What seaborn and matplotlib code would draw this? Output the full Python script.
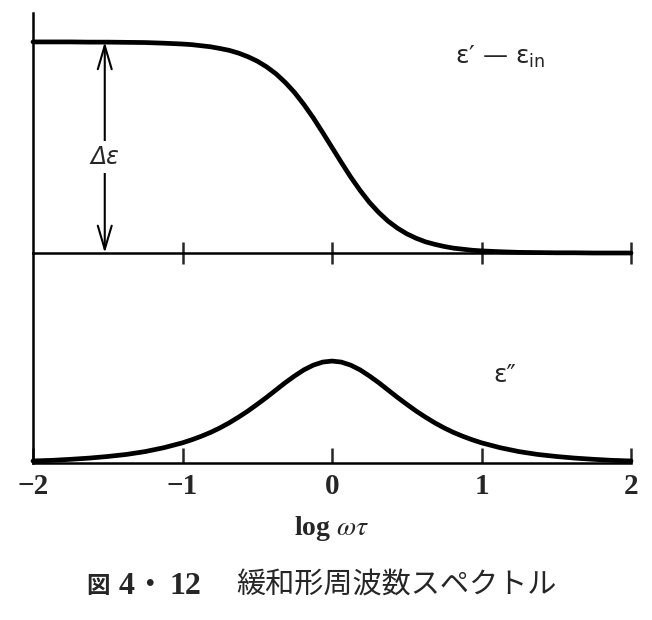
import matplotlib
matplotlib.use("Agg")
import matplotlib.pyplot as plt
import seaborn as sns
import pandas as pd

# values (in units of delta-epsilon)
log_wt = [-2.0, -1.875, -1.75, -1.625, -1.5, -1.375, -1.25, -1.125, -1.0,
          -0.9375, -0.875, -0.8125, -0.75, -0.6875, -0.625, -0.5625, -0.5,
          -0.4375, -0.375, -0.3125, -0.25, -0.1875, -0.125, -0.0625, 0.0,
          0.0625, 0.125, 0.1875, 0.25, 0.3125, 0.375, 0.4375, 0.5,
          0.5625, 0.625, 0.6875, 0.75, 0.8125, 0.875, 0.9375, 1.0,
          1.125, 1.25, 1.375, 1.5, 1.625, 1.75, 1.875, 2.0]
eps_real = [1.000, 1.000, 1.000, 0.999, 0.999, 0.998, 0.997, 0.994, 0.990,
            0.987, 0.982, 0.977, 0.969, 0.960, 0.947, 0.930, 0.909,
            0.882, 0.849, 0.808, 0.760, 0.703, 0.640, 0.571, 0.500,
            0.429, 0.360, 0.297, 0.240, 0.192, 0.151, 0.118, 0.091,
            0.070, 0.053, 0.041, 0.031, 0.023, 0.018, 0.013, 0.010,
            0.006, 0.003, 0.002, 0.001, 0.001, 0.000, 0.000, 0.000]
eps_imag = [0.010, 0.013, 0.018, 0.024, 0.032, 0.042, 0.056, 0.075, 0.099,
            0.114, 0.131, 0.150, 0.172, 0.197, 0.225, 0.255, 0.288,
            0.322, 0.358, 0.394, 0.427, 0.457, 0.480, 0.495, 0.500,
            0.495, 0.480, 0.457, 0.427, 0.394, 0.358, 0.322, 0.288,
            0.255, 0.225, 0.197, 0.172, 0.150, 0.131, 0.114, 0.099,
            0.075, 0.056, 0.042, 0.032, 0.024, 0.018, 0.013, 0.010]
tick_pos = [-2, -1, 0, 1, 2]
tick_labels = ["\u22122", "\u22121", "0", "1", "2"]

df = pd.DataFrame({"log_wt": log_wt, "real": eps_real, "imag": eps_imag})

sns.set_style("white")
plt.rcParams["font.family"] = ["DejaVu Sans", "Noto Sans CJK JP"]
plt.rcParams["mathtext.fontset"] = "dejavusans"

W, H = 652, 620
fig = plt.figure(figsize=(W / 100, H / 100), dpi=100)
ax1 = fig.add_axes([33 / W, 1 - 253 / H, 598 / W, 240 / H])
ax2 = fig.add_axes([33 / W, 1 - 463 / H, 598 / W, 210 / H])
ax2.set_facecolor("none")
ax1.set_zorder(2)
ax1.set_facecolor("none")

lw_curve = 3.4
lw_axis = 1.8

# upper panel: eps' - eps_in
sns.lineplot(data=df, x="log_wt", y="real", ax=ax1, color="black",
             linewidth=lw_curve, clip_on=False)
ax1.set_xlim(-2, 2)
ax1.set_ylim(0, 1.137)
ax1.set_xticks([-1, 0, 1, 2])
ax1.tick_params(axis="x", bottom=True, direction="inout", length=16,
                width=lw_axis, labelbottom=False)
ax1.set_yticks([])
ax1.set_xlabel("")
ax1.set_ylabel("")

# lower panel: eps''
sns.lineplot(data=df, x="log_wt", y="imag", ax=ax2, color="black",
             linewidth=lw_curve, clip_on=False)
ax2.set_xlim(-2, 2)
ax2.set_ylim(0, 1.03)
ax2.set_xticks(tick_pos)
ax2.set_xticklabels(tick_labels, family="Liberation Serif",
                    fontweight="bold", fontsize=21)
ax2.tick_params(axis="x", bottom=True, direction="in", length=11,
                width=lw_axis, pad=7)
ax2.set_yticks([])
ax2.set_ylabel("")
ax2.set_xlabel(r"log $\omega\tau$", family="Liberation Serif",
               fontweight="bold", fontsize=20, labelpad=10)
ax2.xaxis.label.set_math_fontfamily("stix")

for ax in (ax1, ax2):
    for s in ("top", "right"):
        ax.spines[s].set_visible(False)
    for s in ("left", "bottom"):
        ax.spines[s].set_linewidth(lw_axis)
        ax.spines[s].set_color("black")

# delta-epsilon arrow
ax1.annotate("", xy=(-1.52, 1.0), xytext=(-1.52, 0.0),
             arrowprops=dict(arrowstyle="<->,head_length=0.85,head_width=0.25",
                             lw=1.5, color="black", mutation_scale=20,
                             shrinkA=0, shrinkB=0))
ax1.text(-1.52, 0.455, "Δε", ha="center", va="center", fontsize=17,
         fontstyle="italic",
         bbox=dict(facecolor="white", edgecolor="none", pad=3))

ax1.text(0.82, 0.93, "ε\u2032 \u2014 ε$_\\mathregular{in}$",
         ha="left", va="center", fontsize=18)
ax2.text(1.08, 0.43, "ε\u2033", ha="left", va="center", fontsize=18)

# caption
cap_y = 1 - 586 / H
fig.text(86 / W, cap_y, "図", ha="left", va="center",
         family=["Noto Sans CJK JP"], fontweight="bold", fontsize=17)
fig.text(119 / W, cap_y, "4", ha="left", va="center",
         family=["Liberation Serif"], fontweight="bold", fontsize=23)
fig.text(149 / W, cap_y, "・", ha="center", va="center",
         family=["Noto Sans CJK JP"], fontweight="bold", fontsize=19)
fig.text(170 / W, cap_y, "12", ha="left", va="center",
         family=["Liberation Serif"], fontweight="bold", fontsize=23)
fig.text(236 / W, cap_y, "緩和形周波数スペクトル", ha="left",
         va="center", family=["Noto Sans CJK JP"], fontsize=21)

fig.savefig("out.png", dpi=100, facecolor="white")
